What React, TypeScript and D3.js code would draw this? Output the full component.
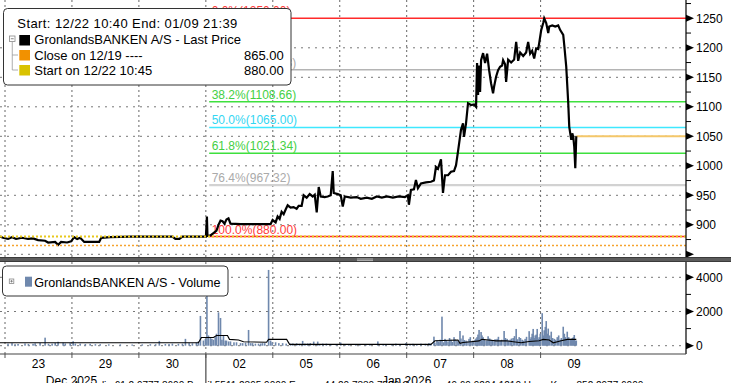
import React from "react";
import * as d3 from "d3";

// ---------- data ----------
const dayLabels = ["23", "29", "30", "02", "05", "06", "07", "08", "09"];
const monthLabels: [string, number][] = [["Dec 2025", 0.61], ["Jan 2026", 5.63]];
const priceMajorTicks = [850, 900, 950, 1000, 1050, 1100, 1150, 1200, 1250];
const priceLabelTicks = [900, 950, 1000, 1050, 1100, 1150, 1200, 1250];
const priceMinorTicks = [875, 925, 975, 1025, 1075, 1125, 1175, 1225, 1275];
const volTicks = [0, 2000, 4000];
const volMinorTicks = [1000, 3000];

const fibHigh = 1250;
const fibLow = 880;
const fibPcts = [0, 23.6, 38.2, 50, 61.8, 76.4, 100];
const fibStartT = 3.05;
const prevClose = 865;
const startPrice = 880;
const lastPrice = 1050;

// [trading-day position, price]
const priceSeries: [number, number][] = [
  [-0.075, 880], [-0.03, 878], [0.045, 876], [0.105, 879], [0.165, 876], [0.254, 878], [0.344, 876],
  [0.419, 877], [0.494, 874], [0.599, 873], [0.644, 870], [0.749, 871], [0.793, 866], [0.838, 871],
  [0.928, 870], [0.988, 872], [1.033, 879], [1.078, 876], [1.123, 878], [1.183, 871], [1.302, 871],
  [1.407, 871], [1.437, 878], [1.572, 879], [1.871, 880], [2.171, 880], [2.5, 880], [2.545, 876],
  [2.605, 876], [2.65, 880], [3.001, 880], [3.016, 914], [3.024, 881], [3.069, 882], [3.114, 886],
  [3.159, 890], [3.189, 900], [3.219, 907], [3.249, 906], [3.278, 902], [3.308, 909], [3.338, 911],
  [3.368, 902], [3.518, 901], [3.743, 901], [3.967, 901], [3.997, 908], [4.042, 904], [4.072, 914],
  [4.102, 910], [4.132, 922], [4.162, 918], [4.192, 926], [4.222, 933], [4.266, 929], [4.311, 930],
  [4.356, 927], [4.386, 932], [4.431, 932], [4.461, 950], [4.506, 946], [4.551, 952], [4.596, 948],
  [4.626, 951], [4.656, 921], [4.686, 964], [4.716, 948], [4.775, 947], [4.82, 948], [4.865, 950],
  [4.895, 991], [4.91, 954], [4.97, 952], [5.015, 950], [5.045, 931], [5.075, 948], [5.165, 946],
  [5.254, 947], [5.314, 944], [5.404, 946], [5.479, 944], [5.554, 948], [5.629, 946], [5.704, 948],
  [5.793, 946], [5.883, 948], [5.973, 947], [6.018, 950], [6.033, 934], [6.063, 959], [6.108, 960],
  [6.138, 976], [6.168, 962], [6.213, 970], [6.287, 972], [6.362, 973], [6.407, 975], [6.437, 998],
  [6.467, 995], [6.512, 1011], [6.542, 954], [6.572, 984], [6.617, 984], [6.662, 990], [6.707, 991],
  [6.737, 1001], [6.766, 1024], [6.811, 1061], [6.841, 1072], [6.856, 1049], [6.886, 1072], [6.916, 1106],
  [6.961, 1103], [7.006, 1104], [7.036, 1100], [7.051, 1174], [7.066, 1120], [7.081, 1170], [7.096, 1125],
  [7.111, 1179], [7.141, 1191], [7.171, 1174], [7.201, 1190], [7.231, 1162], [7.26, 1140], [7.29, 1123],
  [7.305, 1134], [7.335, 1151], [7.365, 1162], [7.395, 1168], [7.425, 1170], [7.44, 1179], [7.47, 1172],
  [7.485, 1142], [7.515, 1180], [7.56, 1175], [7.605, 1180], [7.635, 1210], [7.665, 1178], [7.695, 1192],
  [7.74, 1186], [7.784, 1192], [7.814, 1210], [7.844, 1190], [7.874, 1195], [7.904, 1182], [7.934, 1199],
  [7.964, 1198], [7.979, 1208], [8.009, 1230], [8.039, 1242], [8.054, 1250], [8.084, 1242], [8.114, 1225],
  [8.129, 1236], [8.174, 1238], [8.219, 1236], [8.263, 1238], [8.293, 1230], [8.338, 1222], [8.353, 1205],
  [8.383, 1168], [8.413, 1106], [8.428, 1066], [8.458, 1044], [8.473, 1055], [8.488, 1049], [8.503, 1032],
  [8.518, 996], [8.533, 1050],
];

// [trading-day position, volume]
const volumeSeries: [number, number][] = [
  [0.045, 120], [0.105, 150], [0.15, 90], [0.195, 100], [0.299, 130], [0.35, 100], [0.419, 110],
  [0.45, 140], [0.524, 160], [0.599, 470], [0.65, 110], [0.704, 120], [0.75, 160], [0.793, 230],
  [0.868, 180], [0.9, 130], [0.973, 150], [1.018, 260], [1.05, 120], [1.123, 120], [1.2, 100],
  [1.272, 110], [1.35, 90], [1.422, 90], [1.55, 80], [1.722, 80], [1.9, 70], [2.05, 80], [2.171, 90],
  [2.25, 90], [2.305, 280], [2.395, 100], [2.45, 100], [2.5, 120], [2.59, 110], [2.65, 120],
  [2.695, 400], [2.75, 150], [2.799, 140], [2.859, 180], [2.889, 250], [2.919, 1740], [2.964, 300],
  [2.994, 400], [3.016, 3600], [3.039, 600], [3.069, 500], [3.09, 400], [3.114, 350], [3.14, 500],
  [3.159, 700], [3.189, 1950], [3.219, 1620], [3.24, 350], [3.263, 600], [3.29, 300], [3.308, 300],
  [3.34, 250], [3.368, 250], [3.42, 200], [3.458, 200], [3.518, 150], [3.55, 150], [3.593, 180],
  [3.638, 920], [3.67, 150], [3.698, 150], [3.74, 120], [3.787, 120], [3.82, 130], [3.847, 150],
  [3.88, 150], [3.937, 4430], [3.967, 300], [3.99, 200], [4.042, 200], [4.09, 150], [4.147, 150],
  [4.2, 120], [4.266, 120], [4.3, 130], [4.356, 140], [4.4, 110], [4.446, 280], [4.48, 120],
  [4.521, 130], [4.56, 150], [4.611, 240], [4.671, 240], [4.7, 100], [4.746, 120], [4.8, 120],
  [4.865, 100], [4.95, 90], [5.015, 180], [5.08, 100], [5.135, 100], [5.24, 90], [5.3, 80],
  [5.389, 100], [5.45, 90], [5.569, 250], [5.65, 100], [5.689, 100], [5.78, 90], [5.838, 120],
  [5.9, 100], [5.988, 150], [6.05, 100], [6.093, 110], [6.15, 90], [6.213, 120], [6.28, 110],
  [6.332, 150], [6.36, 120], [6.407, 530], [6.42, 180], [6.452, 300], [6.47, 250], [6.482, 200],
  [6.5, 350], [6.527, 1700], [6.55, 200], [6.572, 400], [6.59, 300], [6.617, 250], [6.64, 450],
  [6.662, 350], [6.68, 220], [6.707, 500], [6.72, 380], [6.751, 300], [6.77, 260], [6.796, 860],
  [6.81, 420], [6.841, 600], [6.86, 330], [6.886, 300], [6.9, 260], [6.931, 400], [6.95, 500],
  [6.976, 250], [6.99, 300], [7.021, 350], [7.035, 420], [7.051, 500], [7.065, 650], [7.081, 920],
  [7.095, 400], [7.111, 800], [7.125, 600], [7.141, 500], [7.16, 380], [7.186, 300], [7.2, 300],
  [7.216, 550], [7.24, 420], [7.26, 350], [7.28, 300], [7.305, 250], [7.32, 380], [7.35, 400],
  [7.37, 520], [7.395, 300], [7.42, 350], [7.455, 860], [7.475, 450], [7.5, 400], [7.52, 300],
  [7.545, 350], [7.565, 420], [7.59, 450], [7.61, 560], [7.635, 980], [7.655, 380], [7.68, 500],
  [7.7, 450], [7.725, 350], [7.745, 300], [7.769, 400], [7.79, 520], [7.829, 850], [7.845, 400],
  [7.859, 500], [7.874, 700], [7.889, 980], [7.904, 450], [7.919, 600], [7.934, 650], [7.949, 980],
  [7.964, 400], [7.979, 500], [7.995, 700], [8.024, 1900], [8.04, 600], [8.054, 900], [8.07, 1100],
  [8.084, 1440], [8.1, 700], [8.114, 1000], [8.135, 600], [8.159, 820], [8.18, 450], [8.204, 400],
  [8.225, 350], [8.249, 500], [8.27, 600], [8.293, 350], [8.31, 450], [8.338, 1110], [8.355, 700],
  [8.368, 500], [8.385, 400], [8.398, 820], [8.42, 500], [8.443, 400], [8.46, 350], [8.473, 450],
  [8.49, 500], [8.503, 625], [8.52, 300], [8.533, 300],
];

// [trading-day position, volume moving average]
const volumeAvg: [number, number][] = [
  [-0.075, 170], [2.889, 170], [2.934, 480], [3.114, 480], [3.159, 600], [3.323, 600], [3.353, 370],
  [3.488, 330], [3.563, 230], [3.907, 200], [3.937, 370], [4.207, 370], [4.251, 80], [6.362, 80],
  [6.422, 290], [6.766, 330], [6.796, 140], [6.841, 190], [6.961, 230], [7.081, 280], [7.126, 370],
  [7.216, 330], [7.335, 280], [7.485, 290], [7.59, 230], [7.71, 170], [7.829, 250], [7.979, 290],
  [8.039, 370], [8.129, 330], [8.189, 170], [8.308, 290], [8.398, 370], [8.533, 370],
];

const footerText =
  "Australia 61 2 9777 8600 Brazil 5511 2395 9000 Europe 44 20 7330 7500 Germany 49 69 9204 1210 Hong Kong 852 2977 6000";

// ---------- styles ----------
const FONT = "'Liberation Sans', Arial, sans-serif";
const fibLineColor: Record<string, string> = {
  "0": "#ff2a2a", "23.6": "#b4b4b4", "38.2": "#3ee03e", "50": "#3fe8ff",
  "61.8": "#3ee03e", "76.4": "#d2d2d2", "100": "#ff2a2a",
};
const fibTextColor: Record<string, string> = {
  "0": "#ff3b3b", "23.6": "#aaaaaa", "38.2": "#44d044", "50": "#33d6f2",
  "61.8": "#44d044", "76.4": "#aaaaaa", "100": "#ff3b3b",
};

export default function App() {
  const W = 731, H = 383;
  const axisX = 686;
  const mainBottom = 257;
  const volTop = 262;
  const volBottom = 354;

  const x = d3.scaleLinear().domain([0, 8]).range([5, 5 + 8 * 66.95]);
  const y = d3.scaleLinear().domain([1250, 900]).range([18.3, 18.3 + 350 * 0.59]);
  const yv = d3.scaleLinear().domain([0, 4000]).range([345.7, 277.3]);

  const priceLine = d3.line<[number, number]>().x((d) => x(d[0])).y((d) => y(d[1]));
  const avgLine = d3.line<[number, number]>().x((d) => x(d[0])).y((d) => yv(d[1]));

  const boundaries = d3.range(0, 9);
  const fibStartX = x(fibStartT);
  const lastT = priceSeries[priceSeries.length - 1][0];

  const tri = (yy: number) => `M${axisX},${yy - 3.5}L${axisX + 8},${yy}L${axisX},${yy + 3.5}Z`;

  return (
    <svg
      width={W}
      height={H}
      viewBox={`0 0 ${W} ${H}`}
      style={{ position: "absolute", left: 0, top: 0, background: "#fff", display: "block" }}
      fontFamily={FONT}
    >
      <rect x={0} y={0} width={W} height={H} fill="#fff" />

      {/* vertical grid */}
      {boundaries.map((b) => (
        <g key={"vg" + b}>
          <line x1={x(b)} x2={x(b)} y1={0} y2={mainBottom} stroke="#666" strokeWidth={1} strokeDasharray="2,3" />
          <line x1={x(b)} x2={x(b)} y1={volTop} y2={volBottom} stroke="#666" strokeWidth={1} strokeDasharray="2,3" />
          <line x1={x(b)} x2={x(b)} y1={volBottom} y2={volBottom + 4} stroke="#555" strokeWidth={1} />
        </g>
      ))}

      {/* horizontal grid main */}
      {priceMajorTicks.filter((v) => v !== 1250).map((v) => (
        <line key={"hg" + v} x1={0} x2={axisX} y1={y(v)} y2={y(v)} stroke="#777" strokeWidth={1} strokeDasharray="2,5" />
      ))}

      {/* fib lines */}
      {fibPcts.map((p) => {
        const val = fibHigh - (p / 100) * (fibHigh - fibLow);
        return (
          <line key={"fl" + p} x1={fibStartX} x2={axisX} y1={y(val)} y2={y(val)}
            stroke={fibLineColor[String(p)]} strokeWidth={p === 76.4 ? 2.2 : 1.5} />
        );
      })}
      {fibPcts.map((p) => {
        const val = fibHigh - (p / 100) * (fibHigh - fibLow);
        return (
          <text key={"ft" + p} x={fibStartX + 2.5} y={y(val) - 3} fontSize={12} fill={fibTextColor[String(p)]}>
            {`${p.toFixed(1)}%(${val.toFixed(2)})`}
          </text>
        );
      })}

      {/* last price line */}
      <line x1={x(lastT)} x2={axisX} y1={y(lastPrice)} y2={y(lastPrice)} stroke="#f4c76a" strokeWidth={2} />

      {/* price line */}
      <path d={priceLine(priceSeries) || ""} fill="none" stroke="#000" strokeWidth={2.2} strokeLinejoin="miter" />

      {/* close and start dotted lines */}
      <line x1={0} x2={axisX} y1={y(prevClose)} y2={y(prevClose)} stroke="#f5a32e" strokeWidth={1.5} strokeDasharray="2,2" />
      <line x1={0} x2={axisX} y1={y(startPrice)} y2={y(startPrice)} stroke="#e8c81c" strokeWidth={2} strokeDasharray="2,2" />

      {/* price legend */}
      <rect x={3.5} y={8.5} width={287.5} height={76.5} rx={4} fill="#fff" stroke="#333" strokeWidth={1} />
      <text x={17.3} y={28.3} fontSize={13} fill="#000" textLength={220} lengthAdjust="spacing">Start: 12/22 10:40 End: 01/09 21:39</text>
      <rect x={9.5} y={36} width={5.5} height={5.5} fill="#fff" stroke="#888" strokeWidth={0.8} />
      <line x1={10.8} x2={13.7} y1={38.75} y2={38.75} stroke="#666" strokeWidth={0.8} />
      <line x1={12.25} x2={12.25} y1={41.5} y2={70} stroke="#999" strokeWidth={0.8} />
      <line x1={12.25} x2={18} y1={55} y2={55} stroke="#999" strokeWidth={0.8} />
      <line x1={12.25} x2={18} y1={70} y2={70} stroke="#999" strokeWidth={0.8} />
      <rect x={19.3} y={35} width={10.7} height={10.5} fill="#000" />
      <rect x={19.3} y={50} width={10.7} height={10.5} fill="#f29100" />
      <rect x={19.3} y={65} width={10.7} height={10.5} fill="#d9c200" />
      <text x={34.3} y={44.3} fontSize={13} fill="#000">GronlandsBANKEN A/S - Last Price</text>
      <text x={34.3} y={59.8} fontSize={13} fill="#000">Close on 12/19 ----</text>
      <text x={283.7} y={59.8} fontSize={13} fill="#000" textAnchor="end">{prevClose.toFixed(2)}</text>
      <text x={34.3} y={74.8} fontSize={13} fill="#000">Start on 12/22 10:45</text>
      <text x={283.7} y={74.8} fontSize={13} fill="#000" textAnchor="end">{startPrice.toFixed(2)}</text>

      {/* right axis main */}
      <line x1={axisX} x2={axisX} y1={0} y2={mainBottom} stroke="#000" strokeWidth={1.2} />
      {priceMajorTicks.map((v) => (
        <path key={"tr" + v} d={tri(y(v))} fill="#000" />
      ))}
      {priceMinorTicks.map((v) => (
        <line key={"mt" + v} x1={axisX} x2={axisX + 5} y1={y(v)} y2={y(v)} stroke="#000" strokeWidth={1} />
      ))}
      {priceLabelTicks.map((v) => (
        <text key={"tl" + v} x={696} y={y(v) + 4.5} fontSize={12} fill="#000">{v}</text>
      ))}

      {/* separator */}
      <rect x={0} y={mainBottom} width={W} height={volTop - mainBottom} fill="#5c5c5c" />
      <line x1={0} x2={W} y1={mainBottom + 0.5} y2={mainBottom + 0.5} stroke="#3a3a3a" strokeWidth={1} />
      <line x1={0} x2={W} y1={volTop - 0.5} y2={volTop - 0.5} stroke="#3a3a3a" strokeWidth={1} />
      <line x1={357} x2={373} y1={259} y2={259} stroke="#c8c8c8" strokeWidth={0.8} />
      <line x1={357} x2={373} y1={260.6} y2={260.6} stroke="#c8c8c8" strokeWidth={0.8} />

      {/* volume grid */}
      {volTicks.map((v) => (
        <line key={"vh" + v} x1={0} x2={axisX} y1={yv(v)} y2={yv(v)} stroke="#777" strokeWidth={1} strokeDasharray="2,5" />
      ))}

      {/* volume bars */}
      {volumeSeries.map(([t, v], i) => (
        <rect key={"vb" + i} x={x(t) - 0.8} y={yv(v)} width={1.6} height={yv(0) - yv(v)} fill="#6f88ad" />
      ))}
      <path d={avgLine(volumeAvg) || ""} fill="none" stroke="#000" strokeWidth={1.1} />

      {/* volume legend */}
      <rect x={2.5} y={266} width={225.5} height={30} rx={4} fill="#fff" stroke="#333" strokeWidth={1} />
      <rect x={9.3} y={279} width={4.5} height={4.5} fill="#fff" stroke="#888" strokeWidth={0.8} />
      <line x1={10.3} x2={12.8} y1={281.25} y2={281.25} stroke="#666" strokeWidth={0.7} />
      <line x1={11.55} x2={11.55} y1={280} y2={282.5} stroke="#666" strokeWidth={0.7} />
      <rect x={25} y={276.7} width={7} height={10} fill="#6f88ad" />
      <text x={34.3} y={286.7} fontSize={12.6} fill="#000">GronlandsBANKEN A/S - Volume</text>

      {/* right axis volume */}
      <line x1={axisX} x2={axisX} y1={volTop} y2={volBottom} stroke="#000" strokeWidth={1.2} />
      {volTicks.map((v) => (
        <path key={"vt" + v} d={tri(yv(v))} fill="#000" />
      ))}
      {volMinorTicks.map((v) => (
        <line key={"vm" + v} x1={axisX} x2={axisX + 5} y1={yv(v)} y2={yv(v)} stroke="#000" strokeWidth={1} />
      ))}
      {volTicks.map((v) => (
        <text key={"vl" + v} x={696} y={yv(v) + 4.5} fontSize={12} fill="#000">{v}</text>
      ))}

      {/* bottom axis */}
      <line x1={0} x2={axisX} y1={volBottom} y2={volBottom} stroke="#444" strokeWidth={1.2} />
      <line x1={x(3)} x2={x(3)} y1={volBottom} y2={H} stroke="#555" strokeWidth={1.3} />
      {dayLabels.map((d, i) => (
        <text key={"dl" + i} x={x(i + 0.5)} y={368} fontSize={12} textAnchor="middle" fill="#000">{d}</text>
      ))}
      <text x={73} y={388.5} fontSize={10} fill="#000">{footerText}</text>
      {monthLabels.map(([m, t]) => (
        <text key={m} x={x(t)} y={384.5} fontSize={12} fill="#000">{m}</text>
      ))}
    </svg>
  );
}
